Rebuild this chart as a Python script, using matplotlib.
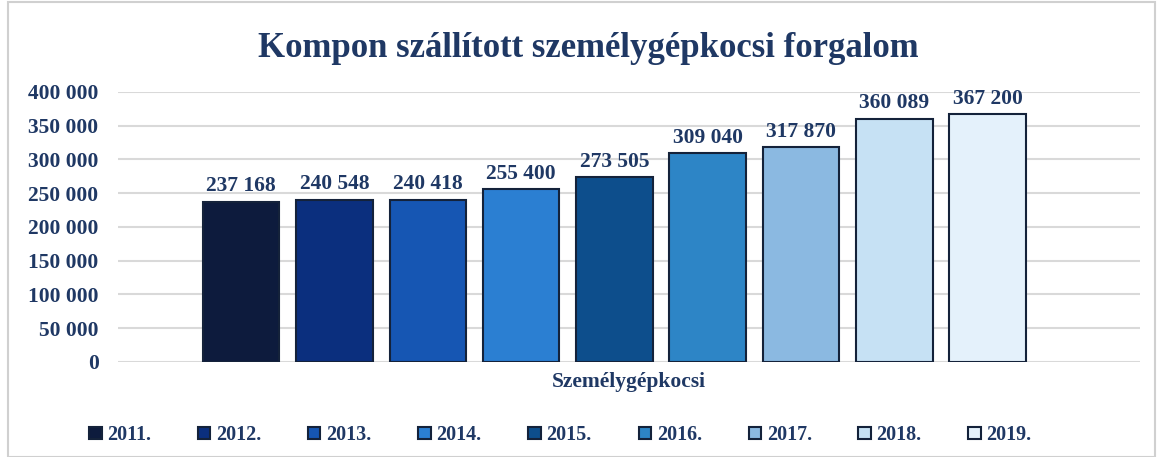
import matplotlib.pyplot as plt
from matplotlib.patches import Rectangle
import numpy as np

years = ['2011.', '2012.', '2013.', '2014.', '2015.', '2016.', '2017.', '2018.', '2019.']
values = [237168, 240548, 240418, 255400, 273505, 309040, 317870, 360089, 367200]
colors = ['#0d1b3d', '#0b2f7e', '#1656b3', '#2b7fd2', '#0d4e8c',
          '#2d85c6', '#8bb9e1', '#c6e1f4', '#e4f1fb']

navy = '#1f3864'
plt.rcParams['font.family'] = ['Liberation Serif', 'DejaVu Serif']

fig = plt.figure(figsize=(11.63, 4.57), dpi=100)
ax = fig.add_axes([0.1015, 0.208, 0.8785, 0.591])

x = np.arange(len(values))
bars = []
for i in range(len(values)):
    b = ax.bar(x[i], values[i], width=0.82, color=colors[i],
               edgecolor='#14223a', linewidth=1.5, label=years[i], zorder=3)
    bars.append(b)
    ax.text(x[i], values[i] + 8000, '{:,}'.format(values[i]).replace(',', ' '),
            ha='center', va='bottom', fontsize=15.5, fontweight='bold', color=navy)

ax.set_xlim(-1.32, 9.63)
ax.set_ylim(0, 400000)
ax.set_yticks(np.arange(0, 400001, 50000))
ax.set_yticklabels(['{:,}'.format(v).replace(',', ' ') for v in range(0, 400001, 50000)])
ax.set_xticks([])
ax.grid(axis='y', color='#d9d9d9', linewidth=1.5, zorder=0)
for s in ax.spines.values():
    s.set_visible(False)
ax.tick_params(axis='y', length=0, pad=14, labelsize=15.5, labelcolor=navy)
for t in ax.get_yticklabels():
    t.set_fontweight('bold')

ax.set_xlabel('Személygépkocsi', fontsize=15.5, fontweight='bold', color=navy, labelpad=7)

fig.suptitle('Kompon szállított személygépkocsi forgalom', x=0.506, y=0.93,
             fontsize=25, fontweight='bold', color=navy)

leg = fig.legend(handles=[b[0] for b in bars], labels=years, ncol=9, loc='center',
                 bbox_to_anchor=(0.482, 0.048), frameon=False,
                 prop={'weight': 'bold', 'size': 14.5}, handlelength=0.6, handleheight=0.6,
                 handletextpad=0.3, columnspacing=2.32)
for t in leg.get_texts():
    t.set_color(navy)

fig.patches.append(Rectangle((0.007, 0.0), 0.986, 0.995, transform=fig.transFigure,
                             fill=False, edgecolor='#d0d0d0', linewidth=1.5))

fig.savefig('out.png', dpi=100)
